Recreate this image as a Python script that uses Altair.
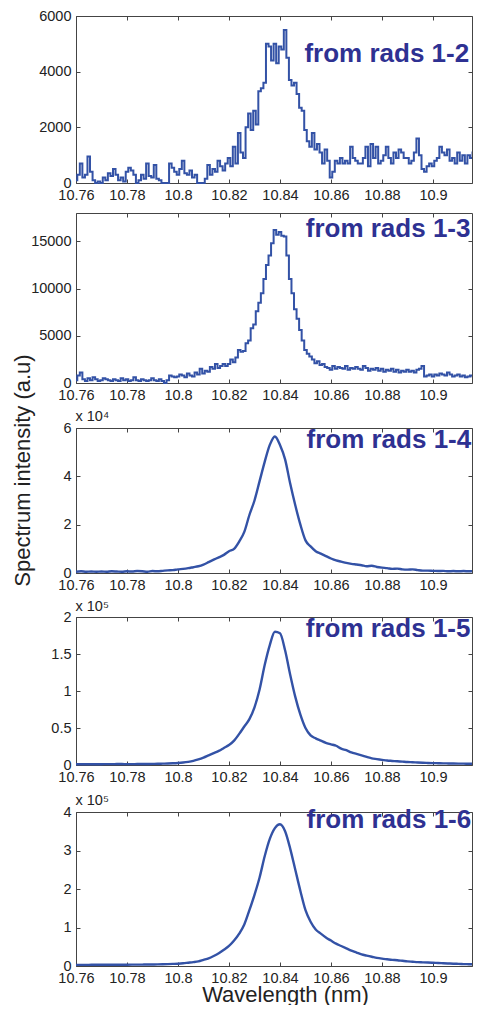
import altair as alt
import pandas as pd

# ---------------- data ----------------
X_DOMAIN = [10.76, 10.9153]
X_TICKS = [10.76, 10.78, 10.8, 10.82, 10.84, 10.86, 10.88, 10.9]

# fine grid (0.001 nm) for the two noisy spectra
wl_fine = [round(10.76 + 0.001 * i, 3) for i in range(161)]
# coarse grid (0.002 nm) for the three smooth spectra
wl_coarse = [round(10.76 + 0.002 * i, 3) for i in range(81)]

rads_1_2 = [
    100, 300, 700, 200, 300, 950, 400, 100, 0, 50,
    0, 200, 100, 350, 250, 500, 300, 100, 200, 50,
    400, 550, 450, 300, 0, 100, 300, 150, 700, 250,
    200, 650, 150, 100, 0, 0, 0, 700, 550, 400,
    300, 500, 800, 350, 300, 450, 200, 300, 0, 0,
    0, 150, 650, 300, 500, 400, 800, 600, 450, 700,
    900, 600, 1300, 700, 1800, 1100, 900, 2000, 2500, 1900,
    2600, 2100, 3300, 3400, 3600, 5000, 4900, 4400, 5000, 4300,
    4900, 4800, 5500, 4500, 3700, 3500, 3600, 3200, 2700, 2600,
    1900, 1500, 1300, 1800, 1200, 1400, 1100, 700, 1200, 800,
    200, 400, 800, 700, 900, 700, 800, 700, 1300, 900,
    800, 700, 700, 900, 1300, 600, 1400, 900, 1300, 700,
    800, 1000, 1300, 900, 700, 1100, 900, 1200, 1100, 900,
    900, 700, 800, 1100, 1600, 1000, 500, 400, 600, 700,
    600, 800, 900, 1300, 1100, 1000, 1200, 800, 900, 700,
    1100, 800, 1000, 700, 1000, 900, 1100, 1000, 900, 1000,
    900,
]

rads_1_3 = [
    300, 800, 1100, 400, 200, 500, 300, 600, 400, 200,
    300, 500, 400, 300, 200, 400, 300, 200, 500, 300,
    400, 200, 300, 600, 300, 200, 400, 300, 200, 300,
    500, 300, 200, 400, 200, 0, 300, 800, 700, 600,
    700, 900, 800, 600, 1000, 800, 700, 1100, 900, 1500,
    1000, 1300, 1200, 1700, 1500, 2000, 1600, 1800, 2000, 1800,
    2000, 2500, 2200, 2700, 3500, 3300, 3400, 4200, 4500, 5800,
    6200, 7600, 8500, 9500, 11000, 12500, 13500, 14800, 16200, 15700,
    16000, 15600, 15500, 13500, 11000, 9500, 7800, 6800, 5600, 4500,
    3500, 3100, 2800, 2500, 2100, 2300, 1900, 2000, 1700, 1600,
    1400, 1800, 1500, 1700, 1600, 1500, 1800, 1400, 1600, 1500,
    1700, 1500, 1400, 1800, 1600, 1300, 1500, 1400, 1600, 1300,
    1500, 1200, 1400, 1300, 1500, 1200, 1400, 1100, 1300, 1200,
    1400, 1200, 1300, 1100, 1400, 1500, 1800, 700, 800, 900,
    700, 900, 800, 1000, 900, 800, 1100, 900, 700, 800,
    900, 700, 800, 600, 700, 800, 700, 600, 800, 700,
    700,
]

# x 10^4
rads_1_4 = [
    0.05, 0.07, 0.05, 0.06, 0.05, 0.06, 0.05, 0.07, 0.06, 0.05,
    0.07, 0.06, 0.08, 0.07, 0.05, 0.08, 0.07, 0.09, 0.11, 0.12,
    0.15, 0.17, 0.20, 0.24, 0.28, 0.35, 0.45, 0.55, 0.65, 0.75,
    0.90, 1.00, 1.30, 1.70, 2.40, 3.00, 3.80, 4.60, 5.30, 5.65,
    5.30, 4.70, 3.70, 2.80, 2.00, 1.35, 1.10, 0.90, 0.80, 0.70,
    0.60, 0.52, 0.47, 0.42, 0.38, 0.35, 0.32, 0.28, 0.30, 0.25,
    0.22, 0.20, 0.17, 0.18, 0.15, 0.14, 0.15, 0.12, 0.10, 0.10,
    0.09, 0.08, 0.09, 0.07, 0.08, 0.07, 0.08, 0.07, 0.08, 0.07,
    0.08,
]

# x 10^5
rads_1_5 = [
    0.010, 0.010, 0.010, 0.011, 0.011, 0.011, 0.012, 0.012, 0.013, 0.013,
    0.012, 0.012, 0.013, 0.013, 0.014, 0.015, 0.016, 0.018, 0.020, 0.023,
    0.027, 0.033, 0.042, 0.055, 0.075, 0.100, 0.130, 0.160, 0.190, 0.230,
    0.270, 0.330, 0.420, 0.520, 0.620, 0.780, 1.020, 1.350, 1.620, 1.800,
    1.780, 1.550, 1.220, 0.920, 0.680, 0.500, 0.400, 0.360, 0.330, 0.300,
    0.280, 0.260, 0.220, 0.200, 0.170, 0.150, 0.130, 0.110, 0.090, 0.080,
    0.070, 0.060, 0.055, 0.050, 0.045, 0.040, 0.037, 0.033, 0.030, 0.028,
    0.026, 0.024, 0.022, 0.021, 0.020, 0.019, 0.018, 0.017, 0.016, 0.016,
    0.015,
]

# x 10^5
rads_1_6 = [
    0.030, 0.030, 0.030, 0.031, 0.031, 0.031, 0.032, 0.032, 0.033, 0.033,
    0.034, 0.035, 0.036, 0.037, 0.038, 0.040, 0.042, 0.045, 0.049, 0.054,
    0.060, 0.070, 0.085, 0.100, 0.120, 0.160, 0.200, 0.260, 0.330, 0.420,
    0.520, 0.660, 0.840, 1.080, 1.450, 1.850, 2.300, 2.850, 3.300, 3.580,
    3.680, 3.500, 3.050, 2.500, 1.950, 1.450, 1.150, 0.950, 0.840, 0.740,
    0.660, 0.580, 0.520, 0.460, 0.400, 0.350, 0.300, 0.270, 0.240, 0.210,
    0.190, 0.175, 0.160, 0.150, 0.135, 0.120, 0.110, 0.100, 0.095, 0.090,
    0.085, 0.078, 0.072, 0.066, 0.060, 0.055, 0.050, 0.047, 0.044, 0.042,
    0.040,
]

labels = ["from rads 1-2", "from rads 1-3", "from rads 1-4", "from rads 1-5", "from rads 1-6"]
y_max = [6000, 18000, 6, 2, 4]
y_ticks = [[0, 2000, 4000, 6000], [0, 5000, 10000, 15000], [0, 2, 4, 6],
           [0, 0.5, 1, 1.5, 2], [0, 1, 2, 3, 4]]
multipliers = [None, None, "x 10\u2074", "x 10\u2075", "x 10\u2075"]
# label anchor (right end, baseline) in data units of each panel
label_x = [10.9142, 10.9147, 10.9150, 10.9147, 10.9150]
label_y = [4358, 15459, 5.17, 1.73, 3.58]

series = [
    (wl_fine, rads_1_2, "step", 2.0),
    (wl_fine, rads_1_3, "step", 2.0),
    (wl_coarse, rads_1_4, "monotone", 2.4),
    (wl_coarse, rads_1_5, "monotone", 2.4),
    (wl_coarse, rads_1_6, "monotone", 2.4),
]

# ---------------- layout / style ----------------
W, H = 396, 950
RANGES = [(167, 0), (367, 197), (557, 412), (749, 601), (950, 796)]  # (bottom, top) px
MULT_Y = [None, None, 404, 594, 788]
TICK = 4
FONT = "Liberation Sans, Arial, Helvetica, sans-serif"
LINE_COLOR = "#3352a6"
LABEL_COLOR = "#2e3192"
NUM_FMT = "~r"

one_row = alt.Data(values=[{}])
layers = []
for i in range(5):
    b, t = RANGES[i]
    wl, vals, interp, sw = series[i]
    df = pd.DataFrame({"wl": wl, "val": vals})
    xs = alt.Scale(domain=X_DOMAIN, nice=False, zero=False)
    ys = alt.Scale(domain=[0, y_max[i]], range=[b, t], nice=False, zero=False)

    xkw = dict(title=None)
    if i == 4:
        xkw = dict(title="Wavelength (nm)", titleFontSize=22, titleBaseline="alphabetic",
                   titleX=209, titleY=35, titleAlign="center")
    ykw = dict(title=None)
    if i == 2:
        ykw = dict(title="Spectrum intensity (a.u)", titleFontSize=22, titleAngle=270,
                   titleBaseline="alphabetic", titleAlign="center", titleX=-47, titleY=454)

    line = alt.Chart(df).mark_line(
        color=LINE_COLOR, strokeWidth=sw, interpolate=interp, clip=True
    ).encode(
        x=alt.X("wl:Q", scale=xs, axis=alt.Axis(
            orient="bottom", offset=b - H, values=X_TICKS, format=NUM_FMT, ticks=False,
            grid=False, labelPadding=5, labelFlush=False, labelOverlap=False, **xkw)),
        y=alt.Y("val:Q", scale=ys, axis=alt.Axis(
            orient="left", values=y_ticks[i], format=NUM_FMT, ticks=False, grid=False,
            labelPadding=5, labelFlush=False, labelOverlap=False, **ykw)),
    )

    text = alt.Chart(one_row).mark_text(
        align="right", baseline="alphabetic", font=FONT, fontWeight="bold",
        fontSize=26, color=LABEL_COLOR,
    ).encode(
        x=alt.XDatum(label_x[i], type="quantitative", scale=xs, axis=alt.Axis(
            orient="top", offset=-t, labels=False, ticks=False, grid=False, title=None)),
        y=alt.YDatum(label_y[i], type="quantitative", scale=ys, axis=alt.Axis(
            orient="right", labels=False, ticks=False, grid=False, title=None)),
        text=alt.value(labels[i]),
    )

    mkw = dict(title=None)
    if multipliers[i]:
        mkw = dict(title=multipliers[i], titleAngle=0, titleAlign="left",
                   titleBaseline="alphabetic", titleFontSize=14.5, titleX=-5,
                   titleY=MULT_Y[i])
    ticks_bl = alt.Chart(one_row).mark_point(opacity=0).encode(
        x=alt.XDatum(X_DOMAIN[0], type="quantitative", scale=xs, axis=alt.Axis(
            orient="bottom", offset=b - H - TICK, values=X_TICKS, labels=False,
            domain=False, grid=False, tickSize=TICK, title=None)),
        y=alt.YDatum(0, type="quantitative", scale=ys, axis=alt.Axis(
            orient="left", offset=-TICK, values=y_ticks[i], labels=False,
            domain=False, grid=False, tickSize=TICK, **mkw)),
    )
    ticks_tr = alt.Chart(one_row).mark_point(opacity=0).encode(
        x=alt.XDatum(X_DOMAIN[0], type="quantitative", scale=xs, axis=alt.Axis(
            orient="top", offset=-(t + TICK), values=X_TICKS, labels=False,
            domain=False, grid=False, tickSize=TICK, title=None)),
        y=alt.YDatum(0, type="quantitative", scale=ys, axis=alt.Axis(
            orient="right", offset=-TICK, values=y_ticks[i], labels=False,
            domain=False, grid=False, tickSize=TICK, title=None)),
    )
    layers += [line, text, ticks_bl, ticks_tr]

chart = alt.layer(*layers).resolve_scale(
    x="independent", y="independent"
).resolve_axis(
    x="independent", y="independent"
).properties(
    width=W, height=H,
    padding={"left": 3, "top": 0, "right": 0, "bottom": 0},
).configure_view(stroke=None).configure_axis(
    labelFont=FONT, labelFontSize=14.5, labelColor="#222",
    titleFont=FONT, titleColor="#222", titleFontWeight="normal",
    domainColor="#444", tickColor="#444",
)

chart.save("out.html", embed_options={"renderer": "svg", "actions": False})
